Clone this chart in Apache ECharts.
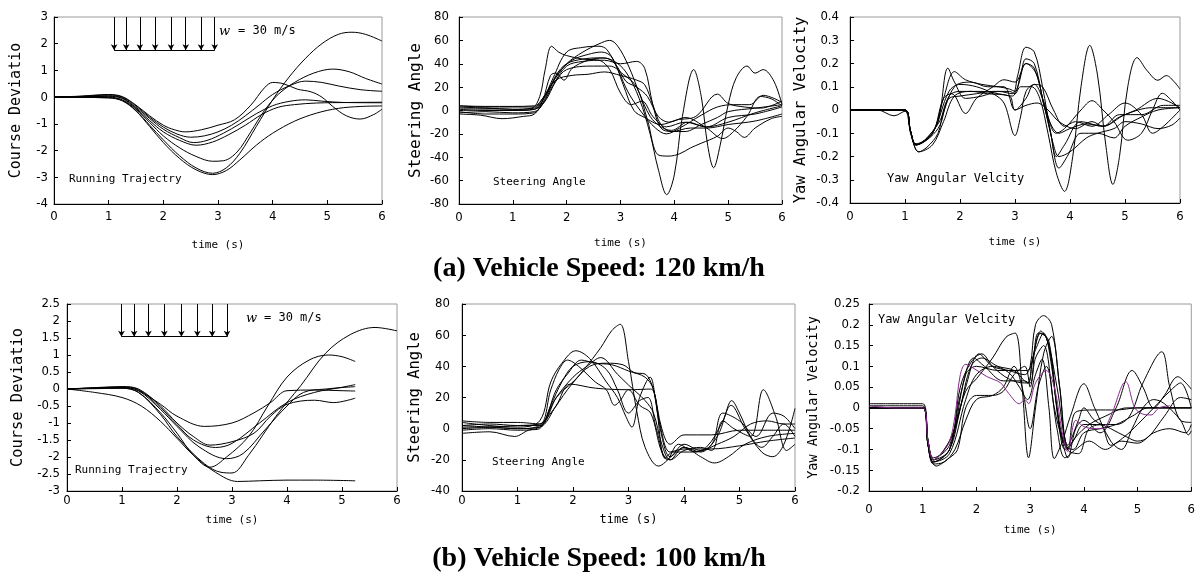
<!DOCTYPE html>
<html><head><meta charset="utf-8">
<script src="https://cdn.jsdelivr.net/npm/echarts@6.0.0/dist/echarts.min.js"></script>
<style>html,body{margin:0;padding:0;background:#fff}#c{width:1198px;height:575px}</style>
</head><body><div id="c"></div><script>
// ---------- axis ranges / ticks ----------
const timeRange = [0, 6];
const courseA = [-4, 3, 1];
const steerA = [-80, 80, 20];
const yawA = [-0.4, 0.4, 0.1];
const courseB = [-3, 2.5, 0.5];
const steerB = [-40, 80, 20];
const yawB = [-0.2, 0.25, 0.05];

// wind arrows (time positions) and their span
const windArrowsA = [1.10, 1.32, 1.57, 1.85, 2.14, 2.41, 2.69, 2.94];
const windSpanA = [3, 1.76];
const windArrowsB = [0.99, 1.22, 1.48, 1.77, 2.08, 2.37, 2.64, 2.91];
const windSpanB = [2.5, 1.54];

// ---------- (a) 120 km/h : course deviation ----------
const p1_s1 = [[0,0],[0.5,0.04],[1.0,0.1],[1.25,0.02],[1.5,-0.3],[1.75,-0.7],[2.0,-1.05],[2.2,-1.22],[2.4,-1.3],[2.7,-1.22],[3.0,-1.05],[3.3,-0.85],[3.6,-0.3],[3.85,0.35],[4.0,0.55],[4.2,0.5],[4.45,0.3],[4.7,0.2],[4.9,0.0],[5.1,-0.35],[5.35,-0.7],[5.6,-0.82],[5.85,-0.65],[6,-0.45]];
const p1_s2 = [[0,0],[0.5,0.03],[1.0,0.08],[1.25,0.0],[1.5,-0.33],[1.75,-0.75],[2.0,-1.12],[2.25,-1.38],[2.5,-1.5],[2.75,-1.45],[3.0,-1.3],[3.25,-1.05],[3.5,-0.7],[3.75,-0.3],[4.0,0.1],[4.3,0.42],[4.6,0.6],[4.9,0.55],[5.2,0.42],[5.6,0.28],[6,0.22]];
const p1_s3 = [[0,0],[0.5,0.02],[1.0,0.05],[1.25,-0.03],[1.5,-0.38],[1.75,-0.8],[2.0,-1.2],[2.3,-1.52],[2.55,-1.7],[2.8,-1.62],[3.1,-1.35],[3.4,-1.0],[3.7,-0.62],[4.0,-0.32],[4.3,-0.16],[4.6,-0.1],[4.9,-0.15],[5.3,-0.2],[6,-0.21]];
const p1_s4 = [[0,0],[0.5,0.01],[1.0,0.03],[1.25,-0.05],[1.5,-0.42],[1.75,-0.88],[2.0,-1.3],[2.3,-1.62],[2.6,-1.8],[2.9,-1.68],[3.2,-1.4],[3.5,-1.05],[3.8,-0.65],[4.1,-0.38],[4.4,-0.28],[4.8,-0.22],[5.4,-0.2],[6,-0.19]];
const p1_s5 = [[0,0],[0.5,0.0],[1.0,0.0],[1.25,-0.1],[1.5,-0.45],[1.75,-0.95],[2.0,-1.45],[2.3,-1.9],[2.6,-2.22],[2.9,-2.4],[3.1,-2.38],[3.35,-2.05],[3.6,-1.3],[3.85,-0.5],[4.1,0.1],[4.4,0.55],[4.75,0.9],[5.1,1.05],[5.4,0.95],[5.7,0.7],[6,0.49]];
const p1_s6 = [[0,0],[0.5,-0.01],[1.0,-0.02],[1.25,-0.12],[1.5,-0.5],[1.75,-1.05],[2.0,-1.6],[2.3,-2.2],[2.6,-2.65],[2.9,-2.85],[3.15,-2.65],[3.4,-2.1],[3.7,-1.1],[4.0,-0.1],[4.3,0.75],[4.6,1.45],[4.9,2.0],[5.2,2.35],[5.45,2.43],[5.7,2.35],[6,2.1]];
const p1_s7 = [[0,0],[0.5,-0.01],[1.0,-0.03],[1.25,-0.14],[1.5,-0.52],[1.75,-1.1],[2.0,-1.7],[2.3,-2.3],[2.6,-2.72],[2.9,-2.9],[3.15,-2.75],[3.4,-2.35],[3.7,-1.8],[4.0,-1.35],[4.4,-0.9],[4.8,-0.6],[5.2,-0.42],[5.6,-0.35],[6,-0.33]];

// ---------- (a) 120 km/h : steering angle ----------
const p2_s1 = [[0,2],[0.5,2],[1.0,1],[1.35,2],[1.5,12],[1.6,35],[1.72,55],[1.85,50],[2.0,47],[2.3,44],[2.6,43],[2.8,35],[3.0,15],[3.2,5],[3.4,8],[3.6,-5],[3.85,-14],[4.2,-10],[4.6,-14],[5.0,-6],[5.5,-3],[6,3]];
const p2_s2 = [[0,4],[0.5,3.5],[1.0,3.5],[1.4,4],[1.55,10],[1.75,25],[2.0,40],[2.3,50],[2.6,57],[2.8,60],[2.95,55],[3.15,38],[3.35,15],[3.55,-5],[3.75,-14],[3.95,-17],[4.25,-10],[4.6,-14],[5.0,-10],[5.5,-2],[6,4]];
const p2_s3 = [[0,0],[0.5,0.5],[1.0,0],[1.4,1],[1.55,8],[1.75,28],[2.0,50],[2.3,54],[2.6,55],[2.75,52],[2.95,35],[3.15,15],[3.4,-2],[3.65,-15],[3.85,-20],[4.1,-15],[4.5,-4],[4.8,3],[5.1,5],[5.4,5],[5.65,13],[6,7]];
const p2_s4 = [[0,-3],[0.4,-4],[0.8,-7],[1.2,-5],[1.4,-3],[1.6,10],[1.8,30],[2.0,40],[2.3,44],[2.6,45],[2.85,43],[3.1,33],[3.35,10],[3.55,-20],[3.7,-50],[3.86,-72],[4.0,-55],[4.15,-5],[4.36,35],[4.5,12],[4.62,-30],[4.73,-49],[4.85,-30],[5.0,5],[5.15,28],[5.35,38],[5.5,32],[5.65,35],[5.85,25],[6,5]];
const p2_s5 = [[0,-2],[0.5,-1],[1.0,-2],[1.4,-1],[1.55,5],[1.75,22],[2.0,38],[2.3,42],[2.7,43],[3.0,40],[3.3,42],[3.45,36],[3.6,5],[3.75,-15],[3.95,-18],[4.3,-15],[4.6,-15],[5.0,-12],[5.5,-9],[6,-3]];
const p2_s6 = [[0,1],[0.5,0],[1.0,0],[1.4,1],[1.6,8],[1.8,25],[2.0,35],[2.5,38],[2.8,38],[3.05,31],[3.3,20],[3.5,-8],[3.7,-38],[3.9,-39],[4.1,-37],[4.3,-32],[4.5,-28],[4.8,-22],[5.0,-15],[5.15,-18],[5.3,-23],[5.5,-15],[5.8,-7],[6,-5]];
const p2_s7 = [[0,4],[0.5,3],[1.0,3],[1.4,3],[1.55,10],[1.8,26],[2.1,30],[2.4,31],[2.7,33],[3.0,30],[3.3,26],[3.45,22],[3.6,5],[3.75,-12],[3.95,-18],[4.2,-18],[4.5,-12],[4.8,-6],[5.0,-1],[5.5,2],[6,5]];
const p2_s8 = [[0,-1],[0.5,-3],[1.0,-3],[1.4,-2],[1.55,8],[1.7,30],[1.8,32],[1.95,26],[2.1,36],[2.4,43],[2.7,45],[2.9,40],[3.1,25],[3.3,20],[3.5,12],[3.7,-5],[3.9,-10],[4.2,-6],[4.6,-15],[4.9,-24],[5.1,-18],[5.35,-5],[5.6,12],[5.8,10],[6,4]];
const p2_s9 = [[0,3],[0.5,2],[1.0,1],[1.4,2],[1.6,12],[1.85,32],[2.1,43],[2.4,48],[2.65,50],[2.85,45],[3.05,22],[3.25,0],[3.45,-6],[3.75,-12],[4.05,-8],[4.4,-5],[4.8,14],[5.0,6],[5.3,3],[5.6,2],[6,8]];

// ---------- (a) 120 km/h : yaw angular velocity ----------
const p3_s1 = [[0,0],[0.5,0],[1.0,0],[1.1,-0.1],[1.25,-0.18],[1.4,-0.16],[1.6,-0.1],[1.7,0.0],[1.8,0.05],[2.0,0.06],[2.3,0.07],[2.6,0.08],[2.9,0.08],[3.0,0.07],[3.1,0.1],[3.3,0.1],[3.45,0.05],[3.6,-0.1],[3.75,-0.27],[3.9,-0.35],[4.05,-0.2],[4.2,0.1],[4.36,0.278],[4.5,0.15],[4.65,-0.15],[4.78,-0.32],[4.9,-0.2],[5.05,0.1],[5.22,0.225],[5.4,0.17],[5.6,0.128],[5.75,0.148],[5.9,0.12],[6,0.09]];
const p3_s2 = [[0,0],[0.5,0],[1.0,0],[1.1,-0.09],[1.2,-0.15],[1.4,-0.12],[1.6,-0.05],[1.78,0.18],[1.9,0.12],[2.1,0.05],[2.4,0.06],[2.7,0.08],[2.95,0.07],[3.05,0.15],[3.2,0.27],[3.35,0.25],[3.5,0.1],[3.65,-0.1],[3.8,-0.25],[3.95,-0.2],[4.2,-0.1],[4.5,-0.1],[4.8,-0.12],[5.0,-0.07],[5.3,-0.03],[5.6,0.0],[6,0.01]];
const p3_s3 = [[0,0],[0.5,0],[1.0,0],[1.1,-0.09],[1.2,-0.15],[1.5,-0.1],[1.7,0.05],[1.9,0.165],[2.1,0.13],[2.4,0.11],[2.7,0.1],[2.9,0.09],[3.0,0.08],[3.1,0.15],[3.2,0.22],[3.35,0.2],[3.5,0.05],[3.65,-0.1],[3.75,-0.2],[3.9,-0.15],[4.2,-0.05],[4.6,-0.07],[5.0,-0.02],[5.5,0.01],[6,0.01]];
const p3_s4 = [[0,0],[0.5,0],[1.0,0],[1.1,-0.09],[1.2,-0.15],[1.5,-0.1],[1.7,0.05],[1.85,0.07],[2.1,-0.015],[2.3,0.05],[2.6,0.1],[2.8,0.13],[3.0,0.12],[3.2,0.2],[3.4,0.15],[3.55,0.0],[3.8,-0.1],[4.0,-0.08],[4.3,-0.06],[4.6,-0.07],[4.9,-0.03],[5.2,0.0],[5.6,0.05],[6,0.01]];
const p3_s5 = [[0,0],[0.5,0],[1.0,0],[1.1,-0.09],[1.2,-0.145],[1.5,-0.1],[1.8,0.08],[2.0,0.11],[2.3,0.1],[2.6,0.07],[2.8,0.03],[3.0,-0.11],[3.1,-0.03],[3.2,0.08],[3.35,0.11],[3.5,0.05],[3.75,-0.1],[3.9,-0.08],[4.2,0.0],[4.4,0.04],[4.6,0.0],[4.8,-0.05],[5.05,-0.13],[5.3,-0.1],[5.5,0.0],[5.68,0.072],[5.85,0.04],[6,0.0]];
const p3_s6 = [[0,0],[0.5,0],[1.0,0],[1.1,-0.09],[1.2,-0.15],[1.6,-0.08],[1.8,0.06],[2.0,0.08],[2.4,0.08],[2.7,0.07],[2.95,0.06],[3.05,0.1],[3.2,0.2],[3.35,0.18],[3.55,0.0],[3.7,-0.15],[3.8,-0.2],[4.0,-0.18],[4.3,-0.12],[4.5,-0.1],[4.8,-0.08],[5.0,-0.05],[5.3,-0.06],[5.6,-0.08],[5.85,-0.065],[6,-0.035]];
const p3_s7 = [[0,0],[0.5,0],[1.0,0],[1.1,-0.09],[1.2,-0.15],[1.6,-0.06],[1.9,0.1],[2.2,0.12],[2.5,0.1],[2.8,0.1],[3.0,0.0],[3.2,0.05],[3.35,0.11],[3.5,0.1],[3.7,0.0],[3.9,-0.07],[4.1,-0.05],[4.4,-0.07],[4.7,-0.02],[5.0,0.03],[5.3,-0.02],[5.5,-0.1],[5.7,-0.07],[6,0.0]];
const p3_s8 = [[0,0],[0.5,0],[0.8,-0.025],[1.0,-0.005],[1.1,-0.09],[1.25,-0.18],[1.5,-0.15],[1.7,-0.05],[1.9,0.06],[2.2,0.08],[2.5,0.07],[2.9,0.06],[3.0,0.0],[3.2,0.02],[3.4,0.03],[3.6,0.0],[3.8,-0.05],[4.1,-0.08],[4.4,-0.05],[4.6,-0.07],[4.9,-0.02],[5.3,-0.02],[5.7,0.02],[6,0.02]];

// ---------- (b) 100 km/h : course deviation ----------
const p4_s1 = [[0,0],[0.5,0.03],[1.0,0.05],[1.3,-0.05],[1.7,-0.45],[2.0,-0.8],[2.5,-1.1],[3.0,-1.0],[3.4,-0.7],[3.7,-0.4],[4.0,-0.05],[4.5,-0.03],[5.0,-0.05],[5.24,-0.06]];
const p4_s2 = [[0,0],[0.5,0.04],[1.0,0.07],[1.3,0.0],[1.7,-0.5],[2.0,-1.0],[2.3,-1.4],[2.6,-1.65],[3.0,-1.55],[3.4,-1.3],[3.7,-0.8],[4.0,-0.45],[4.5,-0.33],[4.85,-0.4],[5.24,-0.27]];
const p4_s3 = [[0,0],[0.5,0.03],[1.0,0.06],[1.3,-0.02],[1.7,-0.55],[2.0,-1.05],[2.3,-1.5],[2.7,-1.72],[3.0,-1.6],[3.5,-1.0],[4.0,-0.4],[4.5,-0.1],[5.0,0.05],[5.24,0.13]];
const p4_s4 = [[0,0],[0.5,0.02],[1.0,0.04],[1.3,-0.05],[1.7,-0.6],[2.0,-1.1],[2.4,-1.7],[2.9,-2.05],[3.2,-1.9],[3.6,-1.2],[4.0,-0.5],[4.3,-0.1],[4.7,0.0],[5.24,0.07]];
const p4_s5 = [[0,0],[0.5,0.02],[1.0,0.03],[1.3,-0.1],[1.7,-0.7],[2.0,-1.3],[2.3,-1.95],[2.6,-2.3],[2.9,-2.0],[3.3,-1.4],[3.65,-0.5],[4.0,0.35],[4.4,0.85],[4.75,1.0],[5.0,0.95],[5.24,0.81]];
const p4_s6 = [[0,0],[0.5,0.01],[1.0,0.02],[1.3,-0.1],[1.7,-0.75],[2.0,-1.4],[2.5,-2.2],[2.8,-2.45],[3.0,-2.47],[3.3,-1.95],[3.8,-0.8],[4.25,0.1],[4.7,1.05],[5.15,1.6],[5.6,1.81],[6,1.71]];
const p4_s7 = [[0,0],[0.5,-0.1],[1.0,-0.25],[1.35,-0.5],[1.7,-0.95],[2.0,-1.45],[2.3,-1.95],[2.7,-2.45],[3.1,-2.72],[3.5,-2.7],[4.0,-2.68],[4.5,-2.68],[5.24,-2.7]];

// ---------- (b) 100 km/h : steering angle ----------
const p5_s1 = [[0,0],[0.5,1],[1.0,2],[1.4,3],[1.6,10],[1.9,25],[2.2,38],[2.5,52],[2.7,63],[2.85,67],[3.0,43],[3.15,11],[3.3,-12],[3.54,-24],[3.8,-17],[4.0,-12],[4.3,-18],[4.55,-22],[4.8,-18],[5.1,-10],[5.5,-5],[6,-3]];
const p5_s2 = [[0,4],[0.5,2],[1.0,1],[1.4,5],[1.6,30],[1.8,42],[2.05,50],[2.3,45],[2.6,30],[2.8,20],[2.95,8],[3.06,1],[3.2,20],[3.39,33],[3.5,15],[3.66,-19],[3.8,-15],[4.1,-15],[4.4,-12],[4.7,5],[4.86,18],[5.0,10],[5.2,-5],[5.4,-12],[5.6,-5],[5.8,3],[6,-5]];
const p5_s3 = [[0,1],[0.5,1],[1.0,0],[1.4,1],[1.7,15],[1.95,28.6],[2.4,26],[3.0,25],[3.4,25.4],[3.55,5],[3.75,-15],[4.0,-13],[4.5,-13],[5.0,-11],[5.5,-8],[6,-6]];
const p5_s4 = [[0,2],[0.5,3],[1.0,2],[1.4,2],[1.7,20],[2.0,33],[2.25,40],[2.5,45.6],[2.8,35],[3.0,28],[3.3,18],[3.45,10],[3.6,-10],[3.75,-20],[4.0,-12],[4.3,-15],[4.6,-5],[4.85,15],[5.1,0],[5.4,-15],[5.6,-18],[5.8,-10],[6,13]];
const p5_s5 = [[0,5],[0.5,4],[1.0,4],[1.4,3],[1.6,25],[1.75,38],[1.9,44],[2.1,40],[2.4,30],[2.6,25],[2.75,15],[2.85,18],[3.0,25],[3.2,15],[3.4,10],[3.6,-15],[3.75,-20],[4.0,-14],[4.3,-12],[4.5,-14],[4.7,5],[4.9,0],[5.2,-5],[5.43,25],[5.65,8],[5.85,-14],[6,-10]];
const p5_s6 = [[0,-1],[0.5,0],[1.0,-1],[1.4,1],[1.7,25],[1.9,35],[2.15,44],[2.4,42],[2.7,41],[3.0,37],[3.3,33],[3.45,25],[3.6,-5],[3.75,-18],[4.0,-10],[4.3,-14],[4.6,-10],[4.9,-5],[5.2,3],[5.5,5],[5.8,3],[6,3]];
const p5_s7 = [[0,2],[0.5,1],[1.0,0],[1.4,2],[1.7,20],[2.0,30],[2.3,40],[2.6,42],[2.9,41],[3.1,36],[3.3,35],[3.45,25],[3.6,0],[3.75,-10],[4.0,-4],[4.5,-4],[5.0,-1],[5.5,-1],[6,-1]];
const p5_s8 = [[0,-3],[0.5,-2],[0.95,-5],[1.2,-1],[1.4,0],[1.6,15],[1.8,30],[2.0,40],[2.3,43],[2.6,38],[2.8,25],[3.0,10],[3.2,18],[3.35,20],[3.5,0],[3.7,-20],[3.9,-10],[4.2,-15],[4.5,-10],[4.7,10],[5.0,5],[5.3,-5],[5.6,10],[5.8,8],[6,0]];

// ---------- (b) 100 km/h : yaw angular velocity ----------
const p6_purple = [[0,0.005],[0.5,0.0],[1.0,0.0],[1.1,-0.08],[1.2,-0.125],[1.35,-0.11],[1.5,-0.08],[1.6,-0.02],[1.7,0.08],[1.8,0.105],[1.95,0.095],[2.2,0.075],[2.45,0.06],[2.6,0.035],[2.8,0.01],[2.9,0.02],[2.97,0.01],[3.1,0.06],[3.3,0.09],[3.45,0.05],[3.6,-0.06],[3.7,-0.105],[3.85,-0.03],[4.0,-0.045],[4.2,-0.05],[4.35,-0.05],[4.5,-0.02],[4.78,0.063],[4.95,0.0],[5.1,-0.015],[5.25,-0.017],[5.4,0.0],[5.6,0.005]];
const p6_s1 = [[0,0.01],[0.5,0.01],[1.0,0.01],[1.1,-0.08],[1.2,-0.125],[1.4,-0.1],[1.6,-0.05],[1.8,0.05],[2.05,0.13],[2.3,0.1],[2.6,0.09],[2.9,0.08],[3.0,0.1],[3.1,0.2],[3.25,0.222],[3.4,0.2],[3.55,0.05],[3.7,-0.1],[3.85,-0.07],[4.1,-0.04],[4.4,-0.02],[4.8,0.0],[5.2,0.0],[5.6,0.0],[6,0.0]];
const p6_s2 = [[0,0],[0.5,0],[1.0,0],[1.1,-0.09],[1.2,-0.13],[1.5,-0.1],[1.7,0.0],[1.9,0.1],[2.1,0.12],[2.4,0.1],[2.7,0.09],[2.95,0.06],[3.05,0.12],[3.2,0.185],[3.35,0.15],[3.5,0.0],[3.65,-0.09],[3.8,-0.1],[4.0,-0.06],[4.3,-0.05],[4.6,-0.04],[4.9,-0.02],[5.2,0.0],[5.6,0.0],[6,0.0]];
const p6_s3 = [[0,0],[0.5,0],[1.0,0],[1.1,-0.08],[1.2,-0.125],[1.5,-0.08],[1.8,0.04],[2.0,0.07],[2.3,0.12],[2.55,0.17],[2.72,0.18],[2.85,0.05],[2.97,-0.12],[3.1,0.0],[3.25,0.13],[3.4,0.172],[3.55,0.05],[3.7,-0.09],[3.9,-0.03],[4.0,0.0],[4.2,-0.03],[4.5,-0.05],[4.8,-0.07],[5.0,-0.08],[5.2,-0.07],[5.5,-0.02],[5.8,0.025],[6,0.02]];
const p6_s4 = [[0,0],[0.5,0],[1.0,0],[1.1,-0.09],[1.2,-0.13],[1.5,-0.11],[1.8,0.02],[2.0,0.08],[2.3,0.1],[2.6,0.085],[2.8,0.05],[2.95,0.02],[3.1,0.08],[3.22,0.117],[3.35,0.0],[3.45,-0.122],[3.6,-0.08],[3.75,-0.02],[4.0,0.058],[4.2,0.0],[4.5,-0.08],[4.7,-0.1],[4.9,-0.05],[5.1,0.0],[5.3,0.02],[5.5,0.01],[5.8,-0.03],[5.95,-0.065],[6,-0.055]];
const p6_s5 = [[0,0.005],[0.5,0.005],[1.0,0.005],[1.1,-0.09],[1.25,-0.14],[1.5,-0.12],[1.65,-0.1],[1.8,0.0],[2.0,0.03],[2.3,0.03],[2.5,0.04],[2.7,0.08],[2.9,0.1],[3.0,0.05],[3.15,0.18],[3.3,0.17],[3.5,0.05],[3.7,-0.1],[3.9,-0.11],[4.1,-0.05],[4.4,-0.04],[4.6,-0.04],[4.85,-0.02],[5.1,0.06],[5.45,0.135],[5.6,0.05],[5.8,-0.03],[6,-0.035]];
const p6_s6 = [[0,0],[0.5,0],[1.0,0],[1.1,-0.09],[1.2,-0.13],[1.5,-0.1],[1.7,0.05],[1.9,0.11],[2.1,0.13],[2.3,0.1],[2.6,0.07],[2.9,0.06],[3.0,0.06],[3.1,0.12],[3.25,0.15],[3.45,0.0],[3.6,-0.08],[3.7,-0.12],[3.85,-0.05],[4.0,-0.03],[4.3,-0.06],[4.6,0.0],[4.9,0.09],[5.1,0.05],[5.3,0.0],[5.5,0.03],[5.75,0.075],[5.9,0.06],[6,0.045]];
const p6_s7 = [[0,0],[0.5,0],[1.0,0],[1.1,-0.09],[1.2,-0.135],[1.4,-0.13],[1.6,-0.1],[1.8,-0.03],[2.0,0.02],[2.3,0.03],[2.5,0.05],[2.7,0.1],[2.85,0.05],[3.0,-0.05],[3.15,0.05],[3.3,0.1],[3.5,-0.05],[3.65,-0.12],[3.85,-0.1],[4.1,-0.08],[4.4,-0.1],[4.7,-0.08],[5.0,-0.085],[5.3,-0.06],[5.6,-0.05],[5.9,-0.06],[6,-0.04]];
const p6_s8 = [[0,0],[0.5,0],[1.0,0],[1.1,-0.08],[1.2,-0.12],[1.5,-0.09],[1.7,0.03],[1.95,0.12],[2.15,0.1],[2.5,0.065],[2.9,0.065],[2.97,0.06],[3.05,0.12],[3.2,0.18],[3.35,0.16],[3.5,0.0],[3.65,-0.1],[3.8,-0.08],[4.0,-0.04],[4.3,-0.04],[4.5,-0.09],[4.75,-0.07],[5.0,-0.04],[5.3,0.0],[5.6,0.04],[5.8,0.06],[6,0.0]];
const p6_s9 = [[0,0],[0.5,0],[1.0,0],[1.1,-0.08],[1.2,-0.125],[1.5,-0.1],[1.8,0.08],[2.0,0.1],[2.4,0.09],[2.8,0.09],[2.95,0.09],[3.1,0.14],[3.25,0.18],[3.4,0.1],[3.55,-0.05],[3.7,-0.1],[3.85,-0.01],[4.2,-0.005],[4.6,-0.005],[5.0,0.0],[5.5,0.0],[6,0.0]];

// ---------- layout ----------
const MONO = '"DejaVu Sans Mono", monospace';
const NARROW = '"Liberation Sans Narrow", "DejaVu Sans Condensed", "DejaVu Sans Mono", sans-serif';
const grids = [
  {left:54, top:17, width:328, height:187},
  {left:459, top:17, width:323, height:187},
  {left:850, top:17, width:330, height:186},
  {left:67, top:304, width:330, height:187},
  {left:462, top:304, width:333, height:187},
  {left:869, top:304, width:324, height:187}
];
const xCfg = [ // label margin, name gap, name size
  [6,36,11],[7,34,11],[7,34,11],[3,24,11],[3,23,12],[12,34,11]
];
const yCfg = [ // range, name, name size, gap, label margin
  [courseA,'Course Deviatio',15,30,6],
  [steerA,'Steering Angle',16,35,10],
  [yawA,'Yaw Angular Velocity',15.5,41,11],
  [courseB,'Course Deviatio',15.4,42,7],
  [steerB,'Steering Angle',15.5,39,12],
  [yawB,'Yaw Angular Velocity',13.5,49,9]
];

const xAxes = xCfg.map((c,i)=>({
  gridIndex:i, type:'value', min:timeRange[0], max:timeRange[1], interval:1,
  name:'time (s)', nameLocation:'middle', nameGap:c[1],
  nameTextStyle:{fontFamily:MONO, fontSize:c[2], color:'#000'},
  axisLine:{show:true, onZero:false, lineStyle:{color:'#000', width:1}},
  axisTick:{show:true, inside:true, length:4, lineStyle:{color:'#000'}},
  axisLabel:{margin:c[0], fontFamily:NARROW, fontSize:13, color:'#000'},
  splitLine:{show:false}
}));
const yAxes = yCfg.map((c,i)=>({
  gridIndex:i, type:'value', min:c[0][0], max:c[0][1], interval:c[0][2],
  name:c[1], nameLocation:'middle', nameRotate:90, nameGap:c[3],
  nameTextStyle:{fontFamily:MONO, fontSize:c[2], color:'#000'},
  axisLine:{show:true, onZero:false, lineStyle:{color:'#000', width:1}},
  axisTick:{show:true, inside:true, length:4, lineStyle:{color:'#000'}},
  axisLabel:{margin:c[4], fontFamily:NARROW, fontSize:13, color:'#000'},
  splitLine:{show:false}
}));

const panels = [
  [p1_s1,p1_s2,p1_s3,p1_s4,p1_s5,p1_s6,p1_s7],
  [p2_s1,p2_s2,p2_s3,p2_s4,p2_s5,p2_s6,p2_s7,p2_s8,p2_s9],
  [p3_s1,p3_s2,p3_s3,p3_s4,p3_s5,p3_s6,p3_s7,p3_s8],
  [p4_s1,p4_s2,p4_s3,p4_s4,p4_s5,p4_s6,p4_s7],
  [p5_s1,p5_s2,p5_s3,p5_s4,p5_s5,p5_s6,p5_s7,p5_s8],
  [p6_s1,p6_s2,p6_s3,p6_s4,p6_s5,p6_s6,p6_s7,p6_s8,p6_s9]
];

function mkLine(i, data, color) {
  return {type:'line', xAxisIndex:i, yAxisIndex:i, data:data, smooth:0.35,
    showSymbol:false, symbol:'none', silent:true, animation:false,
    lineStyle:{color:color, width:1}};
}
const series = [];
panels.forEach((arr,i)=>arr.forEach(d=>series.push(mkLine(i,d,'#000'))));
series.push(mkLine(5, p6_purple, '#8a2a8f'));

function windMark(i, xs, span) {
  const lines = xs.map(x=>[
    {coord:[x, span[0]], symbol:'none'},
    {coord:[x, span[1]], symbol:'arrow', symbolSize:[5,6]}
  ]);
  lines.push([{coord:[xs[0], span[1]], symbol:'none'},{coord:[xs[xs.length-1], span[1]], symbol:'none'}]);
  return {type:'line', xAxisIndex:i, yAxisIndex:i, data:[], silent:true, animation:false,
    markLine:{silent:true, animation:false, symbol:['none','none'], label:{show:false},
      lineStyle:{color:'#000', width:1, type:'solid'}, emphasis:{disabled:true}, data:lines}};
}
series.push(windMark(0, windArrowsA, windSpanA));
series.push(windMark(3, windArrowsB, windSpanB));

function txt(text, x, y, size, opts) {
  return Object.assign({type:'text', left:x, top:y - size*0.6, silent:true,
    style:{text:text, font: size+'px '+MONO, fill:'#000'}}, opts||{});
}
const graphic = [
  txt('Running Trajectry', 69, 180, 11),
  txt('Running Trajectry', 75, 471, 11),
  txt('Steering Angle', 493, 183, 11),
  txt('Steering Angle', 492, 463, 11),
  txt('Yaw Angular Velcity', 887, 180, 12),
  txt('Yaw Angular Velcity', 878, 321, 12),
  {type:'text', left:219, top:25, silent:true, style:{text:'w', font:'italic 13px "DejaVu Serif", serif', fill:'#000'}},
  txt('= 30 m/s', 238, 32, 12),
  {type:'text', left:246, top:312, silent:true, style:{text:'w', font:'italic 13px "DejaVu Serif", serif', fill:'#000'}},
  txt('= 30 m/s', 264, 319, 12),
  {type:'text', left:'center', top:255, silent:true, style:{text:'(a) Vehicle Speed: 120 km/h', font:'bold 28px "Liberation Serif", serif', fill:'#000'}},
  {type:'text', left:'center', top:545, silent:true, style:{text:'(b) Vehicle Speed: 100 km/h', font:'bold 28px "Liberation Serif", serif', fill:'#000'}}
];

const chart = echarts.init(document.getElementById('c'), null, {renderer:'canvas'});
chart.setOption({
  animation:false,
  backgroundColor:'#fff',
  grid: grids.map(g=>Object.assign({show:true, borderColor:'#9a9a9a', borderWidth:1, backgroundColor:'#fff', containLabel:false}, g)),
  xAxis: xAxes,
  yAxis: yAxes,
  series: series,
  graphic: graphic
});
</script></body></html>
